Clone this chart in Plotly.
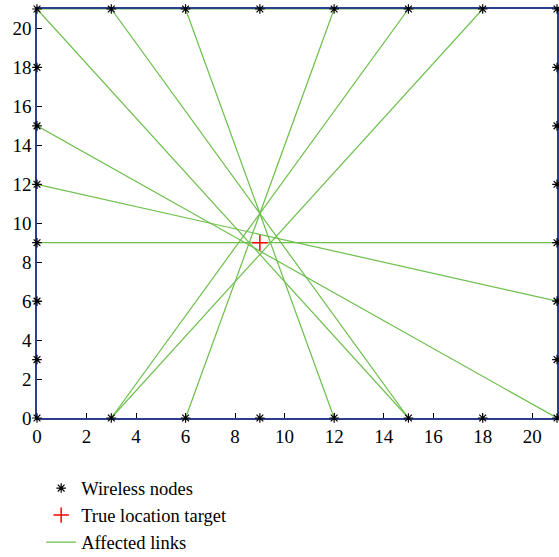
import plotly.graph_objects as go

# Node positions around the perimeter (every 3 units)
coords = [0, 3, 6, 9, 12, 15, 18, 21]
node_x = coords + coords + [0] * 6 + [21] * 6
node_y = [0] * 8 + [21] * 8 + [3, 6, 9, 12, 15, 18] * 2

target_x = [9]
target_y = [9]

# Affected links: start (x, y) -> end (x, y)
link_x0 = [0, 3, 6, 12, 15, 18, 0, 0, 0, 0]
link_y0 = [21, 21, 21, 21, 21, 21, 15, 12, 9, 21]
link_x1 = [15, 15, 12, 6, 3, 3, 21, 21, 21, 18]
link_y1 = [0, 0, 0, 0, 0, 0, 0, 6, 9, 21]

lx, ly = [], []
for a, b, c, d in zip(link_x0, link_y0, link_x1, link_y1):
    lx += [a, c, None]
    ly += [b, d, None]

serif = "Liberation Serif"
fig = go.Figure()
fig.add_trace(go.Scatter(
    x=lx, y=ly, mode="lines", name="Affected links", legendrank=3,
    line=dict(color="#6cbf4a", width=1.2), cliponaxis=False))
fig.add_trace(go.Scatter(
    x=node_x, y=node_y, mode="markers", name="Wireless nodes", legendrank=1,
    marker=dict(symbol="asterisk-open", size=8, color="black",
                line=dict(color="black", width=1.2)),
    cliponaxis=False))
fig.add_trace(go.Scatter(
    x=target_x, y=target_y, mode="markers", name="True location target",
    legendrank=2,
    marker=dict(symbol="cross-thin-open", size=11, color="red",
                line=dict(color="red", width=1.5)),
    cliponaxis=False))

axis_common = dict(
    range=[0, 21], showgrid=False, zeroline=False,
    showline=True, linecolor="#2b3f8c", linewidth=1.5, mirror=True,
    ticks="inside", ticklen=5, tickcolor="black", tickwidth=1,
    tickfont=dict(family=serif, size=19, color="black"),
    dtick=2, tick0=0, layer="below traces",
)
fig.update_layout(
    width=559, height=557,
    margin=dict(l=37, r=2, t=9, b=139, autoexpand=False),
    paper_bgcolor="white", plot_bgcolor="white",
    xaxis=axis_common, yaxis=axis_common,
    showlegend=True,
    legend=dict(
        x=0.008, y=-0.126, xanchor="left", yanchor="top",
        font=dict(family=serif, size=18.5, color="black"),
        traceorder="normal", bgcolor="rgba(0,0,0,0)",
        tracegroupgap=0,
    ),
)
fig.write_html("out.html", config={"displayModeBar": False},
               post_script="document.body.style.margin='0px';")
